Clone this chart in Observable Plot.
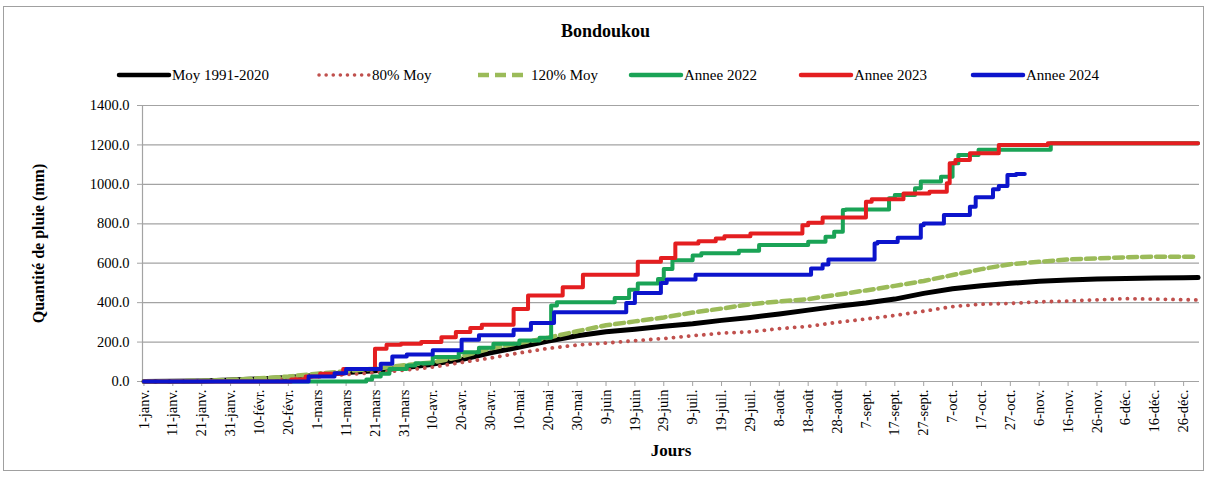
<!DOCTYPE html>
<html>
<head>
<meta charset="utf-8">
<script src="https://cdn.jsdelivr.net/npm/d3@7"></script>
<script src="https://cdn.jsdelivr.net/npm/@observablehq/plot@0.6"></script>
<style>
  html, body { margin: 0; padding: 0; background: #fff; }
  #wrap { position: relative; width: 1211px; height: 477px; overflow: hidden; font-family: "Liberation Serif", serif; }
  #frame { position: absolute; left: 3px; top: 6px; width: 1201px; height: 465px; border: 1px solid #a0a0a0; box-sizing: border-box; }
  #title { position: absolute; left: 0; width: 1211px; top: 21px; text-align: center; font-weight: bold; font-size: 18px; }
  #legend { position: absolute; left: 0; top: 65px; height: 20px; width: 1211px; }
  .li { position: absolute; top: 0; display: flex; align-items: center; font-size: 15px; white-space: nowrap; }
  #chart { position: absolute; left: 0; top: 90px; }
</style>
</head>
<body>
<div id="wrap">
  <div id="frame"></div>
  <div id="title"></div>
  <div id="legend"></div>
  <div id="chart"></div>
</div>
<script>
// ---------- data ----------
const chartTitle = "Bondoukou";
const yLabel = "Quantité de pluie (mm)";
const xLabel = "Jours";

const xTickDays = [1,11,21,31,41,51,61,71,81,91,101,111,121,131,141,151,161,171,181,191,201,211,221,231,241,251,261,271,281,291,301,311,321,331,341,351,361];
const xTickLabels = ["1-janv.","11-janv.","21-janv.","31-janv.","10-févr.","20-févr.","1-mars","11-mars","21-mars","31-mars","10-avr.","20-avr.","30-avr.","10-mai","20-mai","30-mai","9-juin","19-juin","29-juin","9-juil.","19-juil.","29-juil.","8-août","18-août","28-août","7-sept.","17-sept.","27-sept.","7-oct.","17-oct.","27-oct.","6-nov.","16-nov.","26-nov.","6-déc.","16-déc.","26-déc."];
const yTicks = [0,200,400,600,800,1000,1200,1400];

// climatology series (read every 10 days)
const moyDays = [1,11,21,31,41,51,61,71,81,91,101,111,121,131,141,151,161,171,181,191,201,211,221,231,241,251,261,271,281,291,301,311,321,331,341,351,361,366];
const moyVals = [0,1,3,7,13,20,32,45,55,70,88,111,145,175,205,232,252,265,280,293,310,325,342,362,382,398,418,447,470,486,498,508,515,520,523,525,526,527];
const p80Vals = [0,1,2,5,10,16,25,35,45,57,73,97,119,145,168,185,195,207,218,232,245,252,268,280,300,317,335,357,380,392,396,404,408,414,420,418,415,414];
const p120Vals = [0,1,4,9,16,25,40,52,65,82,97,127,168,195,222,255,285,305,325,350,370,392,406,418,440,462,485,510,540,570,595,607,619,624,630,633,633,633];

// yearly cumulative series (day where value changes, value)
const y2022Days = [1,78,80,83,86,92,95,101,110,117,122,131,138,142,144,164,169,172,179,181,184,191,194,207,214,231,237,240,243,244,259,261,268,270,277,281,283,290,315,366];
const y2022Vals = [0,10,25,39,64,81,93,124,149,171,191,208,222,385,402,424,466,497,520,571,615,639,650,663,692,709,734,759,870,873,929,946,980,1014,1039,1107,1149,1175,1208,1208];
const y2023Days = [1,52,57,62,70,81,85,90,97,104,109,114,118,129,134,146,153,172,180,185,193,199,202,211,229,231,236,251,253,264,273,279,280,282,287,297,314,366];
const y2023Vals = [0,10,25,39,64,166,186,191,200,225,251,271,288,368,436,478,542,607,627,700,712,725,737,751,793,805,832,912,924,954,963,1005,1107,1124,1158,1200,1208,1208];
const y2024Days = [1,58,67,71,83,87,92,101,111,117,129,135,143,168,171,180,182,192,232,236,238,254,255,262,270,271,278,287,289,295,297,300,303,306];
const y2024Vals = [0,25,42,64,90,127,137,158,212,234,263,297,351,398,449,500,517,542,573,593,619,700,708,729,793,802,844,886,934,975,992,1047,1052,1052];

const seriesNames = ["Moy 1991-2020","80% Moy","120% Moy","Annee 2022","Annee 2023","Annee 2024"];
const seriesColors = ["#000000","#c0504d","#9bbb59","#1aa356","#e41e20","#0c14cc"];

// ---------- build tables ----------
const zip = (ds, vs) => ds.map((d, i) => ({day: d, v: vs[i]}));
const moy = zip(moyDays, moyVals);
const p80 = zip(moyDays, p80Vals);
const p120 = zip(moyDays, p120Vals);
const a2022 = zip(y2022Days, y2022Vals);
const a2023 = zip(y2023Days, y2023Vals);
const a2024 = zip(y2024Days, y2024Vals);

document.getElementById("title").textContent = chartTitle;

// legend
const legendX = [116, 316, 475, 628, 798, 970];
const legendStyles = [
  {w: 4.5, dash: null, cap: "round"},
  {w: 3.5, dash: "0.1,7", cap: "round"},
  {w: 4.5, dash: "11,6", cap: "butt"},
  {w: 4.5, dash: null, cap: "round"},
  {w: 4.5, dash: null, cap: "round"},
  {w: 4.5, dash: null, cap: "round"}
];
const leg = document.getElementById("legend");
seriesNames.forEach((name, i) => {
  const div = document.createElement("div");
  div.className = "li";
  div.style.left = legendX[i] + "px";
  const st = legendStyles[i];
  div.innerHTML = `<svg width="56" height="20" style="display:block"><line x1="3" x2="53" y1="10" y2="10" stroke="${seriesColors[i]}" stroke-width="${st.w}" stroke-linecap="${st.cap}" ${st.dash ? `stroke-dasharray="${st.dash}"` : ""}/></svg><span>${name}</span>`;
  leg.appendChild(div);
});

const chart = Plot.plot({
  width: 1211,
  height: 387,
  marginTop: 15,
  marginBottom: 96,
  marginLeft: 142,
  marginRight: 12,
  style: {fontFamily: "Liberation Serif", fontSize: "14.5px", color: "#000", background: "transparent", overflow: "visible"},
  x: {domain: [0.5, 366.5]},
  y: {domain: [0, 1400]},
  marks: [
    Plot.ruleY(yTicks, {stroke: "#a3a3a3", strokeWidth: 1.2}),
    Plot.ruleX([0.5], {stroke: "#a3a3a3", strokeWidth: 1.2}),
    Plot.axisY({ticks: yTicks, tickFormat: d3.format(".1f"), tickSize: 5, tickPadding: 8, label: null, stroke: "#a3a3a3", fill: "#000"}),
    Plot.axisX({ticks: xTickDays, tickFormat: d => xTickLabels[xTickDays.indexOf(d)], tickRotate: -90, tickSize: 5, tickPadding: 3, label: null, stroke: "#a3a3a3", fill: "#000"}),
    Plot.line(moy, {x: "day", y: "v", stroke: seriesColors[0], strokeWidth: 5}),
    Plot.line(p80, {x: "day", y: "v", stroke: seriesColors[1], strokeWidth: 3.8, strokeDasharray: "0.1,7.5", strokeLinecap: "round"}),
    Plot.line(p120, {x: "day", y: "v", stroke: seriesColors[2], strokeWidth: 4.5, strokeDasharray: "9,5"}),
    Plot.line(a2022, {x: "day", y: "v", stroke: seriesColors[3], strokeWidth: 4, curve: "step-after"}),
    Plot.line(a2023, {x: "day", y: "v", stroke: seriesColors[4], strokeWidth: 4, curve: "step-after"}),
    Plot.line(a2024, {x: "day", y: "v", stroke: seriesColors[5], strokeWidth: 4, curve: "step-after"}),
    Plot.text([xLabel], {frameAnchor: "bottom", dy: 74, fontWeight: "bold", fontSize: 17}),
    Plot.text([yLabel], {frameAnchor: "left", dx: -104, rotate: -90, textAnchor: "middle", fontWeight: "bold", fontSize: 16})
  ]
});
document.getElementById("chart").appendChild(chart);
</script>
</body>
</html>
